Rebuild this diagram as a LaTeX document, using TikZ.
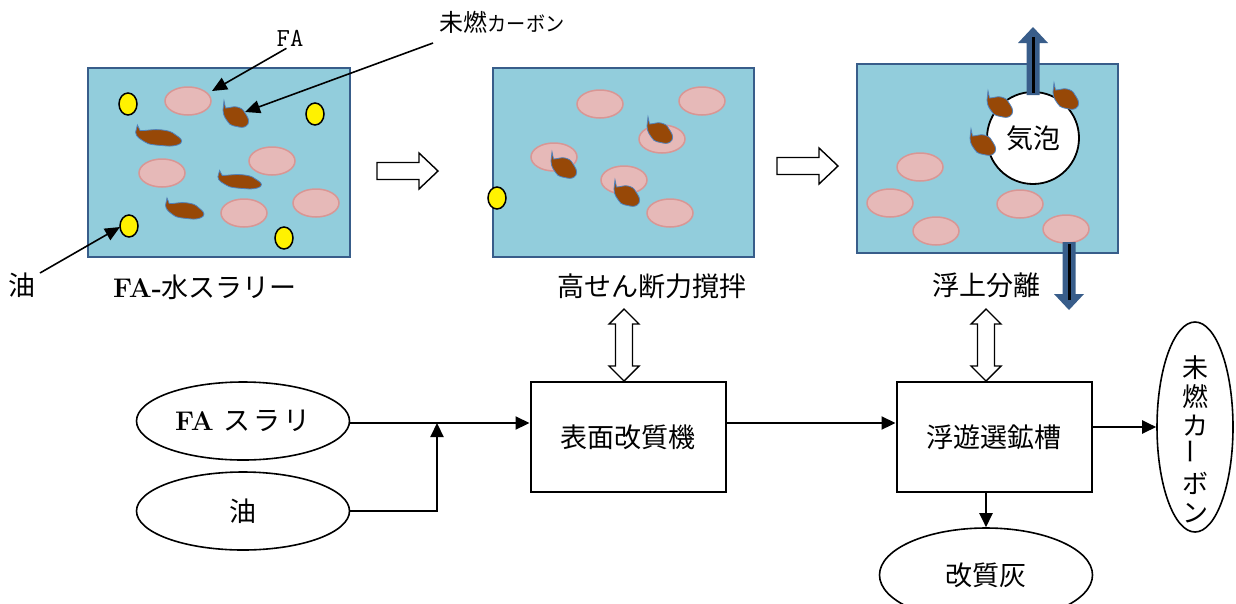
\documentclass[tikz,border=0pt]{standalone}
\usepackage{fontspec}
\newfontfamily\jp{Noto Sans CJK JP}
\usetikzlibrary{shapes.geometric,arrows.meta}

\definecolor{water}{RGB}{146,205,220}
\definecolor{tankedge}{RGB}{56,93,138}
\definecolor{ashfill}{RGB}{230,185,184}
\definecolor{ashedge}{RGB}{217,150,148}
\definecolor{carbonbrown}{RGB}{151,72,7}
\definecolor{carbonedge}{RGB}{79,129,189}

\newcommand\jpfont{\jp\fontsize{27}{30}\selectfont}

\tikzset{
  tank/.style={draw=tankedge, fill=water, line width=1.5pt},
  ash/.style={draw=ashedge, fill=ashfill, line width=1.5pt},
  oil/.style={draw=black, fill=yellow, line width=1.5pt},
  pointer/.style={line width=1.6pt, -{Triangle[length=15pt,width=13pt]}},
  flow/.style={line width=2.2pt, -{Triangle[length=14pt,width=13pt]}},
  hollow arrow/.style={draw=black, fill=white, line width=1.4pt, line join=miter},
  caption/.style={font=\jpfont, inner sep=0pt},
  proc/.style={draw, line width=2pt, minimum width=195pt, minimum height=110pt, font=\jpfont},
  stream/.style={draw, ellipse, line width=1.6pt, inner sep=0pt, minimum width=213pt, minimum height=78pt, font=\jpfont},
  % unburnt carbon particle
  carbon/.pic={
    \path [fill=carbonbrown, draw=carbonedge, line width=0.8pt]
      (-12,-15) -- (-10.5,-8) .. controls (-6,-8) and (-3,-10) .. (1,-9)
      .. controls (5,-8) and (7,-7) .. (9,-3)
      .. controls (11,0) and (14,4) .. (12,8)
      .. controls (10,11) and (7,12) .. (3,11)
      .. controls (-1,10) and (-6,10) .. (-8,6)
      .. controls (-10,3) and (-13,0) .. (-13,-6) -- cycle;
  },
  % outlined step arrow
  push/.pic={
    \path [hollow arrow] (0,-8.5) -- (42,-8.5) -- (42,-18) -- (61,0)
      -- (42,18) -- (42,8.5) -- (0,8.5) -- cycle;
  },
  % two-way link, origin at the lower tip
  updown/.pic={
    \path [hollow arrow] (0,0) -- (15,-15) -- (8.5,-15) -- (8.5,-57)
      -- (15,-57) -- (0,-72) -- (-15,-57) -- (-8.5,-57) -- (-8.5,-15)
      -- (-15,-15) -- cycle;
  },
  % blue arrow for the froth / tailings, origin at the tip
  lift/.pic={
    \path [fill=tankedge] (0,0) -- (15,16) -- (6.5,16) -- (6.5,68)
      -- (-6.5,68) -- (-6.5,16) -- (-15,16) -- cycle;
    \draw [line width=3pt] (0,10) -- (0,66);
  },
}

\begin{document}
\begin{tikzpicture}[x=1pt, y=-1pt]
  \useasboundingbox (0,0) rectangle (1236,603);
  \clip (0,0) rectangle (1236,603);

  % FA-water slurry
  \draw [tank] (88,68) rectangle (350,257);
  \foreach \x/\y in {188/101, 162/173, 272/161, 244/213, 316/203}
    \draw [ash] (\x,\y) ellipse [x radius=23, y radius=14];
  \foreach \x/\y in {128/104, 315/114, 129/226, 284/238}
    \draw [oil] (\x,\y) ellipse [x radius=9, y radius=11];
  \pic at (236,116) {carbon};
  \pic [xscale=1.8, yscale=0.8] at (159,137) {carbon};
  \pic [xscale=1.7, yscale=0.7] at (240,181) {carbon};
  \pic [xscale=1.5, yscale=0.8] at (185,210) {carbon};

  \node [font=\ttfamily\fontsize{26}{28}\selectfont, inner sep=0pt] (FA_label) at (290,38) {FA};
  \node [inner sep=0pt] (Carbon_label) at (502,22)
    {\jp\fontsize{24}{26}\selectfont 未燃\scalebox{0.8}[0.85]{カーボン}};
  \node [caption] (Oil_label) at (22,285) {油};
  \node [caption] (Slurry_caption) at (205,287)
    {{\rmfamily\bfseries\fontsize{27}{30}\selectfont FA-}水スラリー};
  \coordinate (FA_tip) at (212,91);
  \coordinate (Carbon_tip) at (245,112);
  \coordinate (Oil_tip) at (120,227);
  \draw [pointer] (FA_label.south west) ++(10,2) -- (FA_tip);
  \draw [pointer] (433,43) -- (Carbon_tip);
  \draw [pointer] (40,273) -- (Oil_tip);

  \pic at (377,171) {push};

  % high-shear mixing
  \draw [tank] (493,68) rectangle (754,257);
  \foreach \x/\y in {600/104, 702/101, 662/139, 554/157, 624/180, 670/213}
    \draw [ash] (\x,\y) ellipse [x radius=23, y radius=14];
  \draw [oil] (497,198) ellipse [x radius=9, y radius=11];
  \pic at (660,132) {carbon};
  \pic at (564,167) {carbon};
  \pic at (627,195) {carbon};
  \node [caption] (Mixing_caption) at (652,286) {高せん断力撹拌};

  \pic at (777,166) {push};

  % flotation
  \draw [tank] (857,64) rectangle (1118,253);
  \foreach \x/\y in {920/167, 890/203, 936/231, 1020/204, 1066/229}
    \draw [ash] (\x,\y) ellipse [x radius=23, y radius=14];
  \node [draw, circle, fill=white, line width=1.8pt, minimum size=92pt, inner sep=0pt,
    font=\jpfont] (Bubble) at (1033,138) {気泡};
  \pic at (1000,106) {carbon};
  \pic at (1066,98) {carbon};
  \pic at (983,144) {carbon};
  \pic at (1033,27) {lift};
  \pic [rotate=180] at (1069,310) {lift};
  \node [caption] (Flotation_caption) at (986,285) {浮上分離};

  % process flow
  \node [stream] (FA_slurry) at (243,421)
    {{\rmfamily\bfseries\fontsize{27}{30}\selectfont FA}\hspace{10pt}ス\hspace{3pt}ラ\hspace{3pt}リ};
  \node [stream] (Oil_feed) at (243,511) {油};
  \node [proc] (Modifier) at (628,437) {表面改質機};
  \node [proc] (Flotation_cell) at (994,437) {浮遊選鉱槽};
  \node [draw, ellipse, line width=1.6pt, inner sep=0pt, minimum width=76pt,
    minimum height=210pt,
    label={[align=center, font=\jp\fontsize{26}{29}\selectfont, yshift=-12pt]center:
      未\\燃\\カ\\\rotatebox{90}{ー}\\ボ\\ン}]
    (Carbon_out) at (1195,427) {};
  \node [stream, minimum height=94pt] (Ash_out) at (986,575) {改質灰};
  \coordinate (Join) at (437,423);

  \draw [flow] (FA_slurry.east |- Join) -- (Modifier.west |- Join);
  \draw [flow] (Oil_feed.east) -| (Join);
  \draw [flow] (Modifier.east |- Join) -- (Flotation_cell.west |- Join);
  \draw [flow] (Flotation_cell.east |- Carbon_out.west) -- (Carbon_out.west);
  \draw [flow] (Ash_out.north |- Flotation_cell.south) -- (Ash_out.north);

  \pic at (Modifier.north -| 624,0) {updown};
  \pic at (Ash_out.north |- Flotation_cell.north) {updown};
\end{tikzpicture}
\end{document}
